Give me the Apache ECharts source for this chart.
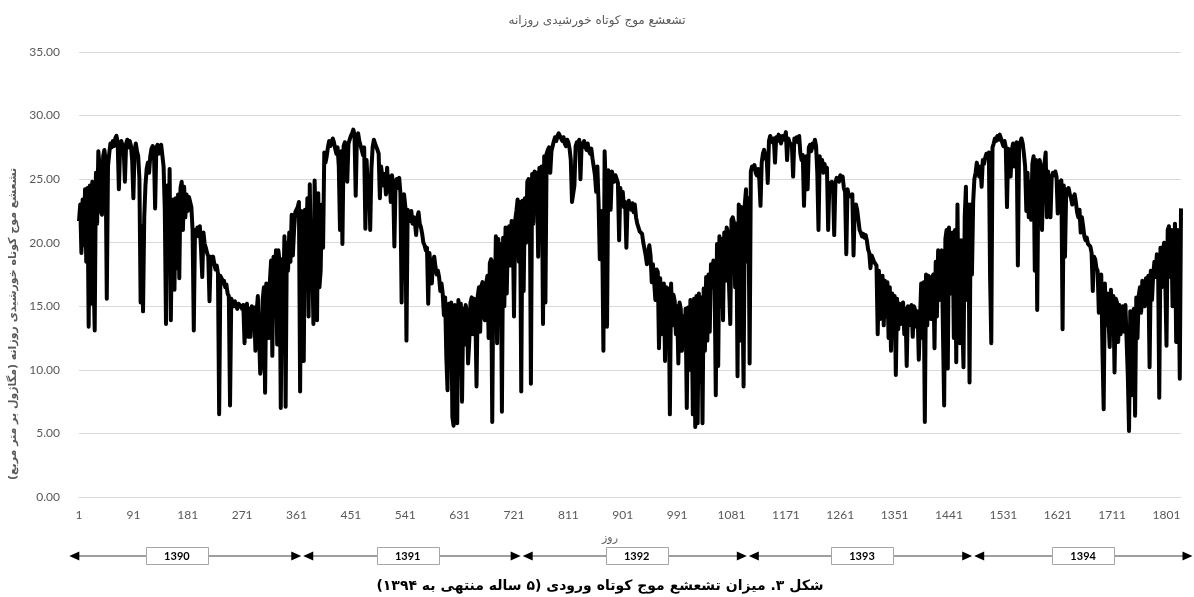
<!DOCTYPE html>
<html>
<head>
<meta charset="utf-8">
<script src="https://cdn.jsdelivr.net/npm/echarts@6/dist/echarts.min.js"></script>
<style>
html,body{margin:0;padding:0;background:#fff;}
#main{width:1194px;height:597px;}
</style>
</head>
<body>
<div id="main"></div>
<script>
// Daily shortwave radiation (MJ/m2), one reading every second day
const rad1390 = [
21.7,23.0,19.2,23.4,19.8,24.2,18.5,24.3,13.4,24.5,
15.2,24.8,17.5,13.1,25.5,21.5,27.2,26.0,22.5,22.2,
26.8,27.3,26.5,15.6,26.0,27.0,27.8,27.5,28.0,27.6,
28.2,28.4,27.9,24.2,27.4,28.0,27.9,27.3,24.8,27.8,
28.1,27.5,28.0,27.6,26.5,23.5,27.3,27.8,27.2,26.8,
25.0,15.3,21.3,14.6,22.0,24.5,25.8,26.3,25.5,26.8,
27.4,27.6,27.2,22.7,27.5,27.7,27.0,27.5,27.7,27.8,
26.0,22.6,13.6,24.5,18.5,25.8,13.9,21.0,23.4,16.3,
23.5,18.0,23.8,17.2,24.3,24.8,21.0,24.4,22.0,23.8,
22.5,23.6,23.2,22.8,21.0,13.1,21.0,20.7,21.2,20.5,
21.3,19.5,17.3,20.8,19.9,19.6,19.2,18.9,15.4,18.9,
18.7,18.9,18.3,17.9,18.2,17.6,6.5,17.4,17.2,16.8,
17.0,16.5,16.7,16.0,15.8,7.2,15.6,15.3,15.0,15.4,
15.1,14.8,15.2,15.3,15.0,14.8,15.1,12.1,14.9,15.2,
12.6,14.8,12.6,15.0,13.2,14.9,11.5,14.5,15.8,12.8,
9.7,10.5,15.5,16.5,8.2,16.8,14.0,12.5,17.0,18.6,
11.1,18.9,14.5,19.4,12.0,19.4,18.5,7.0,18.7,15.5,
20.5,7.1,20.0,17.8,20.8,18.5,22.2,19.0,21.0,22.4,
22.6
];
const rad1391 = [
22.8,23.2,8.3,22.5,16.0,10.7,22.6,18.0,23.5,14.2,
24.6,17.5,19.0,13.6,24.9,20.5,13.9,23.9,16.5,17.8,
23.0,19.6,27.1,26.3,26.8,27.5,28.0,27.6,27.8,28.2,
27.9,27.4,27.0,27.5,26.0,21.0,27.2,19.9,27.6,27.9,
27.5,24.8,27.8,28.1,28.4,28.6,28.9,28.5,23.7,28.3,
28.6,28.0,27.9,27.3,26.9,27.5,21.1,26.5,24.4,25.2,
21.0,25.8,27.5,28.1,27.8,27.9,27.3,27.0,23.5,26.0,
25.2,24.5,25.4,23.8,25.9,24.0,25.2,23.2,25.3,24.6,
19.7,24.8,25.0,24.3,25.1,23.9,15.3,23.6,23.8,22.9,
12.3,22.6,22.2,21.7,22.5,21.5,22.0,21.6,20.6,22.0,
22.4,21.5,21.2,20.7,20.0,19.8,19.4,19.6,15.2,19.2,
19.3,16.8,18.6,18.9,18.1,17.5,17.8,17.3,16.2,16.8,
16.0,14.3,15.7,11.0,8.4,15.2,12.5,15.3,6.3,5.6,
15.1,9.5,5.8,15.5,11.7,15.2,7.5,14.8,12.0,15.1,
14.6,10.5,12.3,15.3,15.7,12.8,15.6,14.5,8.7,15.8,
16.5,13.0,16.6,16.9,14.2,13.9,16.8,17.4,12.5,18.4,
18.7,5.9,18.5,14.5,20.5,12.1,20.3,16.0,19.9,6.7,
20.4,15.0,21.2,16.0,20.9,21.3,18.2,21.7,21.4,14.2,
21.8
];
const rad1392 = [
22.5,23.4,18.5,23.2,8.3,23.3,16.2,23.5,20.0,24.8,
25.0,24.7,8.9,25.4,21.5,25.6,25.2,25.5,18.9,25.9,
25.7,26.0,13.6,26.8,15.3,27.0,27.3,27.5,25.5,27.2,
27.6,28.0,28.3,28.0,28.4,28.6,28.7,28.2,28.0,28.3,
27.8,27.6,28.1,27.9,27.4,26.5,23.2,23.2,24.5,27.6,
27.9,27.7,28.1,25.0,27.8,27.5,28.0,27.6,27.3,27.8,
27.2,27.0,27.4,26.6,26.5,25.3,24.0,26.0,23.1,18.7,
22.5,20.5,11.5,27.2,24.0,13.4,25.7,24.5,22.6,25.6,
25.5,24.8,25.3,25.2,24.7,20.2,24.3,23.5,24.0,22.8,
23.2,19.6,23.0,23.3,22.8,22.6,23.1,22.4,23.0,22.0,
21.5,21.2,20.9,21.0,20.7,20.0,19.9,19.0,18.3,19.3,
19.8,19.0,16.9,18.3,18.4,15.5,17.9,17.7,11.7,17.2,
12.8,13.1,16.8,10.7,16.5,12.0,16.4,6.5,16.8,13.5,
15.9,15.4,12.8,15.0,10.5,15.3,14.8,11.5,14.2,12.1,
14.8,7.0,14.9,10.0,15.5,15.2,6.5,15.6,5.5,15.8,
5.8,16.0,9.0,15.7,5.8,16.4,11.5,17.3,12.3,17.5,
13.0,18.3,16.5,18.6,17.0,8.0,19.9,10.3,20.5,15.0,
20.3,13.9,20.8,17.0,21.2,20.8,16.5,13.6,21.8,22.0
];
const rad1393 = [
21.6,16.5,21.5,9.5,23.0,12.3,22.8,17.0,8.7,23.0,
24.2,18.5,23.5,10.5,25.6,26.0,25.8,26.1,25.5,25.3,
25.8,25.0,22.9,26.3,27.0,27.3,26.6,27.0,24.7,28.0,
28.4,28.1,27.9,28.2,26.3,28.3,28.0,28.5,28.2,27.8,
28.4,28.1,28.3,28.7,26.5,28.2,27.9,28.0,27.6,25.2,
28.2,28.0,28.3,27.9,28.4,27.0,26.5,26.9,22.9,26.3,
26.8,24.2,27.5,27.7,27.2,27.8,27.5,28.1,27.6,25.5,
21.0,26.8,26.0,26.5,25.5,26.2,25.7,25.9,21.0,24.7,
24.2,24.8,24.4,20.6,24.7,25.1,25.2,24.8,25.3,25.0,
25.2,24.3,24.0,19.1,24.2,23.8,23.9,23.6,23.8,19.0,
22.8,23.0,22.6,22.5,21.0,20.8,20.5,20.7,20.4,20.6,
20.2,19.5,19.2,18.0,19.0,18.9,18.5,18.6,18.2,12.8,
17.8,14.0,16.3,17.4,13.5,17.0,14.2,16.9,12.5,16.5,
11.5,16.0,13.8,15.8,9.6,15.6,13.2,15.2,13.6,15.0,
15.3,12.8,14.8,10.3,15.0,13.5,14.9,15.1,12.6,15.0,
14.7,13.4,14.6,10.8,14.0,16.8,12.5,16.9,5.9,17.5,
13.5,17.4,17.0,14.0,17.3,17.5,11.7,18.5,14.2,19.4,
15.5,19.0,19.4,13.0,7.2,20.3,21.0,10.1,21.2,16.0,
16.5
];
const rad1394 = [
20.8,12.5,21.0,10.6,23.0,13.5,12.1,20.2,14.0,10.2,
22.0,24.4,15.5,23.0,9.0,23.0,17.5,23.2,25.0,25.5,
26.3,25.8,25.2,26.0,24.4,26.5,26.2,26.7,27.0,26.8,
27.1,17.3,12.1,27.5,27.8,28.2,28.0,28.4,28.1,28.5,
28.2,27.9,27.6,28.0,27.5,22.8,27.4,26.6,25.2,27.3,
27.8,26.0,27.7,27.9,18.2,27.6,27.9,28.2,27.8,27.0,
26.0,22.5,25.5,22.0,24.8,21.8,26.2,26.8,17.8,26.5,
14.7,25.5,26.5,26.0,21.0,25.8,26.2,27.1,22.0,25.6,
25.5,22.0,25.2,25.5,25.3,25.6,25.2,22.3,24.8,24.6,
24.9,13.2,24.5,18.9,24.2,24.0,24.3,23.8,23.5,23.0,
23.6,23.8,23.2,22.4,22.0,22.6,20.8,22.0,21.3,20.5,
20.2,20.4,19.9,20.0,19.7,19.2,16.2,18.9,18.7,18.0,
17.8,14.5,17.3,17.5,11.5,6.9,16.8,13.5,16.0,16.1,
11.8,16.3,13.0,15.8,9.8,15.6,15.3,12.2,15.1,12.8,
14.7,15.0,13.0,15.1,15.2,9.5,5.2,14.6,8.0,14.4,
14.8,6.4,15.7,12.5,15.8,16.5,14.5,17.0,16.6,15.0,
17.2,16.8,17.4,10.2,17.8,15.5,17.5,18.5,17.3,19.1,
18.8,7.8,19.6,16.5,19.4,20.0,17.0,11.9,21.0,21.3,
17.3,21.0,15.0,18.0,21.5,12.2,21.0,17.5,9.3,22.7
];
const yearLabels = ['1390', '1391', '1392', '1393', '1394'];
const yTicks = [0, 5, 10, 15, 20, 25, 30, 35];
const titleText = 'تشعشع موج کوتاه خورشیدی روزانه';
const yAxisTitle = '\u200Fتشعشع موج کوتاه خورشیدی روزانه (مگاژول بر متر مربع)\u200F';
const xAxisTitle = 'روز';
const captionText = '\u200Fشکل ۳. میزان تشعشع موج کوتاه ورودی (۵ ساله منتهی به ۱۳۹۴)\u200F';

// annotation layout (days along the axis where the year arrows sit)
const yearEdgeDays = [-15, 370.5, 733.7, 1108, 1481, 1844];
const yearBoxDays = [163, 545, 924, 1297, 1663];

const values = [].concat(rad1390, rad1391, rad1392, rad1393, rad1394);
const days = values.map((v, i) => String(1 + 2 * i));

const chart = echarts.init(document.getElementById('main'), null, {renderer: 'canvas'});
const option = {
  animation: false,
  backgroundColor: '#ffffff',
  title: {
    text: titleText,
    left: 'center',
    top: 10,
    textStyle: {fontFamily: '"DejaVu Sans", sans-serif', fontSize: 12, fontWeight: 'normal', color: '#595959'}
  },
  grid: {left: 79, right: 13, top: 52, bottom: 100, containLabel: false},
  xAxis: {
    type: 'category',
    data: days,
    boundaryGap: false,
    axisLine: {show: true, lineStyle: {color: '#d9d9d9', width: 1}},
    axisTick: {show: false},
    axisLabel: {interval: 44, color: '#595959', fontFamily: 'Lato, "Liberation Sans", sans-serif', fontSize: 12, margin: 12},
    splitLine: {show: false}
  },
  yAxis: {
    type: 'value',
    min: yTicks[0],
    max: yTicks[yTicks.length - 1],
    interval: 5,
    axisLine: {show: false},
    axisTick: {show: false},
    axisLabel: {formatter: v => v.toFixed(2), color: '#595959', fontFamily: 'Lato, "Liberation Sans", sans-serif', fontSize: 12, margin: 19},
    splitLine: {lineStyle: {color: '#d9d9d9', width: 1}}
  },
  series: [{
    type: 'line',
    data: values,
    symbol: 'none',
    showSymbol: false,
    silent: true,
    lineStyle: {color: '#000000', width: 4, join: 'round'},
    itemStyle: {color: '#000000'}
  }]
};
chart.setOption(option);

const x0 = chart.convertToPixel({xAxisIndex: 0}, 0);
const x1 = chart.convertToPixel({xAxisIndex: 0}, values.length - 1);
const lastDay = 1 + 2 * (values.length - 1);
function dayX(d) { return x0 + (d - 1) / (lastDay - 1) * (x1 - x0); }

const Y_ARROW = 556;
const elements = [];
yearLabels.forEach((lab, i) => {
  const xa = dayX(yearEdgeDays[i]) + (i > 0 ? 1 : 0);
  const xb = dayX(yearEdgeDays[i + 1]) - (i < yearLabels.length - 1 ? 1 : 0);
  elements.push({type: 'line', shape: {x1: xa + 8, y1: Y_ARROW, x2: xb - 8, y2: Y_ARROW}, style: {stroke: '#7f7f7f', lineWidth: 1.5}, z: 10});
  elements.push({type: 'polygon', shape: {points: [[xa, Y_ARROW], [xa + 10, Y_ARROW - 4.5], [xa + 10, Y_ARROW + 4.5]]}, style: {fill: '#000'}, z: 11});
  elements.push({type: 'polygon', shape: {points: [[xb, Y_ARROW], [xb - 10, Y_ARROW - 4.5], [xb - 10, Y_ARROW + 4.5]]}, style: {fill: '#000'}, z: 11});
  const cx = dayX(yearBoxDays[i]);
  elements.push({type: 'rect', shape: {x: Math.round(cx - 31) + 0.5, y: Y_ARROW - 8.5, width: 62, height: 17}, style: {fill: '#fff', stroke: '#a6a6a6', lineWidth: 1}, z: 12});
  elements.push({type: 'text', x: cx, y: Y_ARROW, style: {text: lab, align: 'center', verticalAlign: 'middle', font: 'bold 11px Lato, "Liberation Sans", sans-serif', fill: '#000'}, z: 13});
});
elements.push({type: 'text', x: 13, y: 324, rotation: Math.PI / 2, style: {text: yAxisTitle, align: 'center', verticalAlign: 'middle', font: 'bold 11px "DejaVu Sans", sans-serif', fill: '#595959'}, z: 10});
elements.push({type: 'text', x: 610, y: 538, style: {text: xAxisTitle, align: 'center', verticalAlign: 'middle', font: '11px "DejaVu Sans", sans-serif', fill: '#595959'}, z: 10});
elements.push({type: 'text', x: 600, y: 586, style: {text: captionText, align: 'center', verticalAlign: 'middle', font: 'bold 14px "DejaVu Sans", sans-serif', fill: '#000'}, z: 10});
chart.setOption({graphic: {elements: elements}});
</script>
</body>
</html>
